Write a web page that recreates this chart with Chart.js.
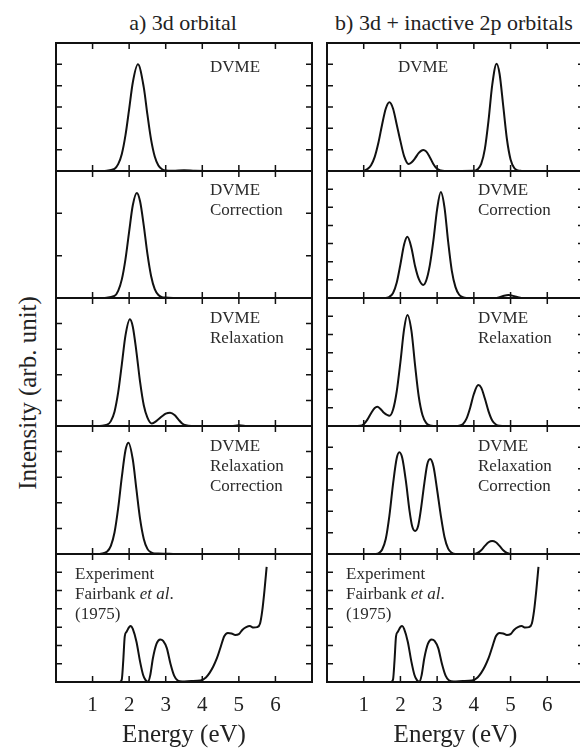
<!DOCTYPE html>
<html>
<head>
<meta charset="utf-8">
<script src="https://cdn.jsdelivr.net/npm/chart.js@4.4.1/dist/chart.umd.min.js"></script>
<style>
  html, body { margin: 0; padding: 0; background: #fff; }
  body { width: 580px; height: 748px; position: relative; overflow: hidden; font-family: 'Liberation Serif', serif; color: #222; }
  canvas { position: absolute; }
  .col-title { position: absolute; top: 12px; font-size: 22px; line-height: 22px; white-space: nowrap; transform: translateX(-50%); }
  #ytitle { position: absolute; left: 27px; top: 393px; font-size: 25px; line-height: 25px; white-space: nowrap; transform: translate(-50%, -50%) rotate(-90deg); }
</style>
</head>
<body>
<div class="col-title" style="left:183px">a) 3d orbital</div>
<div class="col-title" style="left:454px">b) 3d + inactive 2p orbitals</div>
<div id="ytitle">Intensity (arb. unit)</div>
<script>
// energy axis ticks (eV)
const energyTicks = [1, 2, 3, 4, 5, 6];

// a) 3d orbital
const a1Energy = [1.3, 1.6, 1.7, 1.8, 1.9, 2.0, 2.1, 2.24, 2.4, 2.5, 2.6, 2.7, 2.8, 2.9, 3.0, 3.2, 3.5, 3.8, 4.2];
const a1Intensity = [0, 0.1, 0.32, 0.8, 1.68, 2.9, 4.15, 5.0, 3.92, 2.64, 1.47, 0.68, 0.26, 0.08, 0.02, 0.01, 0.04, 0.01, 0];

const a2Energy = [1.3, 1.6, 1.7, 1.8, 1.9, 2.0, 2.1, 2.21, 2.3, 2.4, 2.5, 2.6, 2.7, 2.8, 2.9, 3.0, 3.3];
const a2Intensity = [0, 0.05, 0.17, 0.44, 0.92, 1.57, 2.19, 2.48, 2.28, 1.71, 1.04, 0.52, 0.21, 0.07, 0.02, 0.01, 0];

const a3Energy = [1.2, 1.4, 1.5, 1.6, 1.7, 1.8, 1.9, 2.02, 2.1, 2.2, 2.3, 2.4, 2.5, 2.62, 2.75, 2.9, 3.0, 3.12, 3.25, 3.35, 3.45, 3.55, 3.7, 4.8, 5.0, 5.2];
const a3Intensity = [0, 0.05, 0.19, 0.56, 1.31, 2.41, 3.54, 4.17, 3.88, 2.89, 1.71, 0.81, 0.33, 0.1, 0.2, 0.38, 0.48, 0.52, 0.42, 0.25, 0.1, 0.03, 0, 0, 0.03, 0];

const a4Energy = [1.2, 1.4, 1.5, 1.6, 1.7, 1.8, 1.9, 1.98, 2.1, 2.2, 2.3, 2.4, 2.5, 2.6, 2.7, 2.8, 3.0, 3.2];
const a4Intensity = [0, 0.1, 0.32, 0.84, 1.79, 3.01, 4.05, 4.35, 3.69, 2.51, 1.36, 0.59, 0.2, 0.06, 0.02, 0.02, 0.01, 0];

// b) 3d + inactive 2p orbitals
const b1Energy = [1.0, 1.1, 1.2, 1.3, 1.4, 1.5, 1.6, 1.7, 1.8, 1.9, 2.0, 2.1, 2.22, 2.3, 2.4, 2.5, 2.62, 2.7, 2.8, 2.9, 3.0, 3.1, 3.2, 4.0, 4.1, 4.2, 4.3, 4.4, 4.5, 4.62, 4.7, 4.8, 4.9, 5.0, 5.1, 5.2, 5.3];
const b1Intensity = [0, 0.09, 0.27, 0.66, 1.32, 2.17, 2.92, 3.22, 2.92, 2.17, 1.4, 0.7, 0.33, 0.4, 0.6, 0.85, 0.99, 0.92, 0.65, 0.32, 0.1, 0.02, 0, 0.01, 0.08, 0.33, 1.04, 2.38, 4.03, 5.03, 4.56, 3.05, 1.5, 0.54, 0.14, 0.03, 0];

const b2Energy = [1.6, 1.7, 1.8, 1.9, 2.0, 2.1, 2.19, 2.3, 2.4, 2.5, 2.62, 2.7, 2.8, 2.9, 3.0, 3.1, 3.2, 3.3, 3.4, 3.5, 3.6, 3.7, 3.8, 4.6, 4.7, 4.8, 4.94, 5.1, 5.2, 5.3];
const b2Intensity = [0, 0.07, 0.28, 0.85, 1.86, 2.95, 3.37, 2.76, 1.75, 1.05, 0.72, 0.95, 1.8, 3.2, 4.9, 5.84, 5.0, 3.1, 1.5, 0.6, 0.18, 0.04, 0, 0, 0.05, 0.11, 0.16, 0.1, 0.04, 0];

const b3Energy = [0.8, 0.9, 1.0, 1.1, 1.2, 1.3, 1.37, 1.45, 1.55, 1.7, 1.8, 1.9, 2.0, 2.1, 2.19, 2.3, 2.4, 2.5, 2.6, 2.7, 2.8, 2.9, 3.5, 3.6, 3.7, 3.8, 3.9, 4.0, 4.12, 4.2, 4.3, 4.4, 4.5, 4.6, 4.7, 4.8];
const b3Intensity = [0, 0.01, 0.1, 0.35, 0.7, 0.98, 1.05, 0.95, 0.72, 0.56, 0.9, 1.9, 3.5, 5.3, 6.07, 5.2, 3.3, 1.6, 0.6, 0.17, 0.03, 0, 0, 0.02, 0.1, 0.4, 1.0, 1.75, 2.24, 2.1, 1.5, 0.8, 0.3, 0.08, 0.01, 0];

const b4Energy = [1.3, 1.4, 1.5, 1.6, 1.7, 1.8, 1.9, 1.97, 2.05, 2.15, 2.25, 2.32, 2.4, 2.48, 2.55, 2.65, 2.73, 2.81, 2.9, 3.0, 3.1, 3.2, 3.3, 3.4, 3.5, 4.0, 4.1, 4.2, 4.3, 4.4, 4.5, 4.6, 4.7, 4.8, 4.9, 5.0];
const b4Intensity = [0, 0.03, 0.2, 0.7, 1.8, 3.3, 4.5, 4.77, 4.5, 3.4, 2.0, 1.3, 1.08, 1.3, 2.0, 3.3, 4.2, 4.45, 4.1, 3.0, 1.8, 0.8, 0.25, 0.05, 0, 0, 0.05, 0.18, 0.38, 0.55, 0.61, 0.55, 0.38, 0.18, 0.05, 0];

// Experiment, Fairbank et al. (1975) - same in both columns
const expEnergy = [1.75, 1.8, 1.84, 1.88, 1.93, 2.0, 2.05, 2.1, 2.2, 2.3, 2.38, 2.45, 2.52, 2.58, 2.65, 2.75, 2.85, 2.93, 3.03, 3.13, 3.23, 3.33, 3.45, 3.7, 3.95, 4.1, 4.2, 4.3, 4.4, 4.5, 4.6, 4.7, 4.8, 4.9, 5.0, 5.1, 5.2, 5.3, 5.4, 5.5, 5.58, 5.64, 5.7, 5.76];
const expIntensity = [0, 0.15, 1.2, 2.5, 2.75, 3.0, 3.06, 2.9, 2.2, 1.1, 0.4, 0.1, 0, 0.4, 1.3, 2.1, 2.33, 2.25, 1.85, 1.0, 0.35, 0.08, 0.03, 0.05, 0.08, 0.25, 0.5, 0.85, 1.3, 1.9, 2.5, 2.68, 2.65, 2.57, 2.62, 2.86, 3.0, 3.06, 2.98, 3.0, 3.2, 3.9, 5.0, 6.3];

const expLabel = ['Experiment', [['Fairbank ', false], ['et al', true], ['.', false]], '(1975)'];

// layout
const colLeft = [56, 327];
const colWidth = [256, 257];
const rowTop = [43, 171, 298, 426, 554, 682];
const rowLabelY = [29, 24, 25, 25, 25];
const PAD = 4;
const AXIS_H = 68;
const FONT = "'Liberation Serif'";

Chart.defaults.font.family = FONT;

const framePlugin = {
    id: 'frame',
    afterDraw(chart, args, opts) {
        const ctx = chart.ctx;
        const a = chart.chartArea;
        const x = chart.scales.x, y = chart.scales.y;
        ctx.save();
        ctx.strokeStyle = '#111';
        ctx.lineWidth = 2;
        ctx.strokeRect(a.left, a.top, a.right - a.left, a.bottom - a.top);

        // inward tick marks on all four sides
        ctx.lineWidth = 1.5;
        ctx.beginPath();
        energyTicks.forEach(v => {
            const px = x.getPixelForValue(v);
            ctx.moveTo(px, a.top); ctx.lineTo(px, a.top + 6);
            ctx.moveTo(px, a.bottom); ctx.lineTo(px, a.bottom - 6);
        });
        for (let v = 1; v < y.max; v++) {
            const py = y.getPixelForValue(v);
            ctx.moveTo(a.left, py); ctx.lineTo(a.left + 6, py);
            ctx.moveTo(a.right, py); ctx.lineTo(a.right - 6, py);
        }
        ctx.stroke();

        // panel caption
        ctx.fillStyle = '#2b2b2b';
        ctx.textBaseline = 'alphabetic';
        opts.lines.forEach((line, i) => {
            const parts = typeof line === 'string' ? [[line, false]] : line;
            let tx = a.left + opts.x;
            const ty = a.top + opts.y + i * 20;
            parts.forEach(([text, italic]) => {
                ctx.font = (italic ? 'italic ' : '') + '17px ' + FONT;
                ctx.fillText(text, tx, ty);
                tx += ctx.measureText(text).width;
            });
        });
        ctx.restore();
    }
};

const panels = [
    { col: 0, row: 0, e: a1Energy, v: a1Intensity, yMax: 6, lines: ['DVME'], labelX: 154 },
    { col: 0, row: 1, e: a2Energy, v: a2Intensity, yMax: 3, lines: ['DVME', 'Correction'], labelX: 154 },
    { col: 0, row: 2, e: a3Energy, v: a3Intensity, yMax: 5, lines: ['DVME', 'Relaxation'], labelX: 154 },
    { col: 0, row: 3, e: a4Energy, v: a4Intensity, yMax: 5, lines: ['DVME', 'Relaxation', 'Correction'], labelX: 154 },
    { col: 0, row: 4, e: expEnergy, v: expIntensity, yMax: 7, lines: expLabel, labelX: 19 },
    { col: 1, row: 0, e: b1Energy, v: b1Intensity, yMax: 6, lines: ['DVME'], labelX: 71 },
    { col: 1, row: 1, e: b2Energy, v: b2Intensity, yMax: 7, lines: ['DVME', 'Correction'], labelX: 151 },
    { col: 1, row: 2, e: b3Energy, v: b3Intensity, yMax: 7, lines: ['DVME', 'Relaxation'], labelX: 151 },
    { col: 1, row: 3, e: b4Energy, v: b4Intensity, yMax: 6, lines: ['DVME', 'Relaxation', 'Correction'], labelX: 151 },
    { col: 1, row: 4, e: expEnergy, v: expIntensity, yMax: 7, lines: expLabel, labelX: 19 }
];

panels.forEach(p => {
    const bottomRow = p.row === 4;
    const w = colWidth[p.col];
    const h = rowTop[p.row + 1] - rowTop[p.row];
    const canvas = document.createElement('canvas');
    canvas.width = w + 2 * PAD;
    canvas.height = h + 2 * PAD + (bottomRow ? AXIS_H : 0);
    canvas.style.left = (colLeft[p.col] - PAD) + 'px';
    canvas.style.top = (rowTop[p.row] - PAD) + 'px';
    document.body.appendChild(canvas);

    new Chart(canvas, {
        type: 'line',
        data: {
            datasets: [{
                data: p.e.map((e, i) => ({ x: e, y: p.v[i] })),
                borderColor: '#111',
                borderWidth: 2,
                pointRadius: 0,
                cubicInterpolationMode: 'monotone',
                fill: false
            }]
        },
        options: {
            responsive: false,
            animation: false,
            events: [],
            layout: { padding: PAD },
            plugins: {
                legend: { display: false },
                tooltip: { enabled: false },
                frame: { lines: p.lines, x: p.labelX, y: rowLabelY[p.row] }
            },
            scales: {
                x: {
                    type: 'linear',
                    min: 0,
                    max: 7,
                    display: bottomRow,
                    grid: { display: false, drawTicks: false },
                    border: { display: false },
                    ticks: {
                        stepSize: 1,
                        autoSkip: false,
                        maxRotation: 0,
                        padding: 11,
                        color: '#222',
                        font: { size: 21 },
                        callback: v => energyTicks.includes(v) ? v : ''
                    },
                    title: { display: true, text: 'Energy (eV)', color: '#222', font: { size: 25 }, padding: 0 },
                    afterFit: s => {
                        if (!bottomRow) return;
                        s.height = AXIS_H;
                        s.paddingLeft = 0;
                        s.paddingRight = 0;
                    }
                },
                y: { min: 0, max: p.yMax, display: false }
            }
        },
        plugins: [framePlugin]
    });
});
</script>
</body>
</html>
